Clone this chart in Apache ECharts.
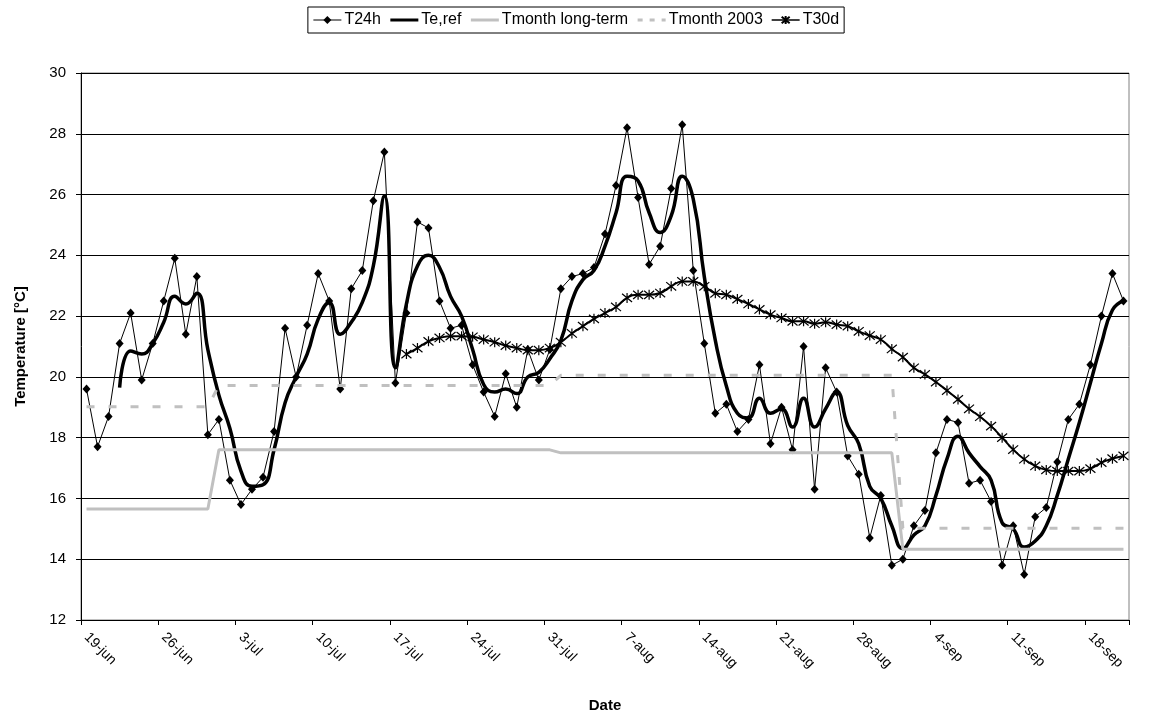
<!DOCTYPE html>
<html>
<head>
<meta charset="utf-8">
<script src="https://cdn.jsdelivr.net/npm/echarts@6/dist/echarts.min.js"></script>
<style>
html,body{margin:0;padding:0;background:#fff;}
#chart{width:1152px;height:718px;}
</style>
</head>
<body>
<div id="chart"></div>
<script>
// ---- categories: daily dates from 19-jun to 21-sep (2003) ----
var monthNames = ['jun', 'jul', 'aug', 'sep'];
var monthLengths = [30, 31, 31, 30];
var startDay = 19;
var dayCount = 95;

// ---- T24h daily mean temperature ----
var t24h = [19.6, 17.7, 18.7, 21.1, 22.1, 19.9, 21.1, 22.5, 23.9, 21.4,
            23.3, 18.1, 18.6, 16.6, 15.8, 16.3, 16.7, 18.2, 21.6, 20.0,
            21.7, 23.4, 22.5, 19.6, 22.9, 23.5, 25.8, 27.4, 19.8, 22.1,
            25.1, 24.9, 22.5, 21.6, 21.7, 20.4, 19.5, 18.7, 20.1, 19.0,
            20.9, 19.9, 20.9, 22.9, 23.3, 23.4, 23.6, 24.7, 26.3, 28.2,
            25.9, 23.7, 24.3, 26.2, 28.3, 23.5, 21.1, 18.8, 19.1, 18.2,
            18.6, 20.4, 17.8, 19.0, 17.6, 21.0, 16.3, 20.3, 19.5, 17.4,
            16.8, 14.7, 16.1, 13.8, 14.0, 15.1, 15.6, 17.5, 18.6, 18.5,
            16.5, 16.6, 15.9, 13.8, 15.1, 13.5, 15.4, 15.7, 17.2, 18.6,
            19.1, 20.4, 22.0, 23.4, 22.5];

// ---- Te,ref reference temperature (starts on day 4) ----
var teRef = [null, null, null, 19.65, 20.85, 20.75, 21.1, 21.8, 22.65, 22.4,
             22.75, 20.9, 19.4, 18.3, 16.9, 16.4, 16.45, 17.6, 19.15, 20.0,
             20.75, 21.9, 22.45, 21.4, 21.8, 22.45, 23.65, 25.95, 20.3, 22.4,
             23.65, 24.0, 23.6, 22.65, 22.0, 20.9, 19.75, 19.5, 19.6, 19.45,
             20.0, 20.15, 20.6, 21.2, 22.5, 23.2, 23.5, 24.3, 25.4, 26.6,
             26.45, 25.4, 24.75, 25.3, 26.6, 25.85, 23.3, 21.2, 19.7, 18.8,
             18.65, 19.3, 18.8, 18.95, 18.35, 19.3, 18.35, 18.95, 19.5, 18.4,
             17.8, 16.4, 16.0, 15.1, 14.35, 14.8, 15.1, 16.1, 17.3, 18.05,
             17.5, 17.05, 16.6, 15.2, 15.0, 14.4, 14.6, 15.1, 16.1, 17.3,
             18.5, 19.8, 21.1, 22.2, 22.5];

// ---- monthly means (jun, jul, aug, sep) ----
var tMonthLongTerm = [15.65, 17.6, 17.5, 14.33];
var tMonth2003 = [19.02, 19.72, 20.05, 15.02];

// ---- T30d running 30-day mean (starts on day 30) ----
var t30dStart = 29;
var t30d = [20.75, 20.95, 21.17, 21.28, 21.34, 21.34, 21.32, 21.23, 21.14, 21.03,
            20.95, 20.88, 20.88, 20.95, 21.14, 21.43, 21.67, 21.91, 22.1, 22.3,
            22.6, 22.7, 22.7, 22.76, 22.98, 23.14, 23.14, 22.98, 22.75, 22.7,
            22.56, 22.4, 22.22, 22.05, 21.94, 21.83, 21.83, 21.75, 21.8, 21.72,
            21.67, 21.5, 21.36, 21.23, 20.92, 20.65, 20.3, 20.08, 19.83, 19.55,
            19.26, 18.95, 18.69, 18.38, 18.0, 17.61, 17.29, 17.07, 16.94, 16.9,
            16.9, 16.9, 16.98, 17.18, 17.31, 17.4];

// ---- build category labels and month index per day ----
var categories = [];
var monthIdx = [];
(function () {
  var m = 0, d = startDay;
  for (var i = 0; i < dayCount; i++) {
    categories.push(d + '-' + monthNames[m]);
    monthIdx.push(m);
    d++;
    if (d > monthLengths[m]) { d = 1; m++; }
  }
})();
var longTermDaily = monthIdx.map(function (m) { return tMonthLongTerm[m]; });
var m2003Daily = monthIdx.map(function (m) { return tMonth2003[m]; });
var t30dDaily = categories.map(function (c, i) {
  return i < t30dStart ? null : t30d[i - t30dStart];
});

var FONT = 'Arial, "Liberation Sans", sans-serif';
var starPath = 'path://M0,0L10,10M10,0L0,10M5,-1L5,11';

var chart = echarts.init(document.getElementById('chart'), null, { renderer: 'canvas' });
chart.setOption({
  animation: false,
  backgroundColor: '#ffffff',
  textStyle: { fontFamily: FONT, color: '#000' },
  legend: {
    top: 7,
    left: 'center',
    borderColor: '#000',
    borderWidth: 1,
    padding: [5, 5, 5, 5],
    itemGap: 8,
    itemWidth: 28,
    itemHeight: 10,
    textStyle: { fontFamily: FONT, fontSize: 16, color: '#000', padding: [0, 0, 0, -2] },
    data: [
      { name: 'T24h', lineStyle: { width: 1 } },
      { name: 'Te,ref', itemStyle: { opacity: 0 }, lineStyle: { width: 3 } },
      { name: 'Tmonth long-term', itemStyle: { opacity: 0 }, lineStyle: { width: 3 } },
      { name: 'Tmonth 2003', itemStyle: { opacity: 0 }, lineStyle: { width: 3, type: [5, 7] } },
      { name: 'T30d', lineStyle: { width: 1.5 } }
    ]
  },
  grid: {
    left: 81, right: 23, top: 73, bottom: 97,
    show: true, borderColor: '#808080', borderWidth: 1, backgroundColor: '#fff'
  },
  xAxis: {
    type: 'category',
    data: categories,
    boundaryGap: true,
    name: 'Date',
    nameLocation: 'middle',
    nameGap: 78,
    nameTextStyle: { fontFamily: FONT, fontSize: 15, fontWeight: 'bold', color: '#000' },
    axisLine: { lineStyle: { color: '#000', width: 1 } },
    axisTick: { show: true, interval: 6, length: 5, lineStyle: { color: '#000' } },
    axisLabel: { interval: 6, rotate: -45, margin: 15, fontFamily: FONT, fontSize: 14, color: '#000' },
    splitLine: { show: false }
  },
  yAxis: {
    type: 'value',
    min: 12, max: 30, interval: 2,
    name: 'Temperature [°C]',
    nameLocation: 'middle',
    nameGap: 53,
    nameTextStyle: { fontFamily: FONT, fontSize: 15, fontWeight: 'bold', color: '#000' },
    axisLine: { show: true, lineStyle: { color: '#000', width: 1 } },
    axisTick: { show: true, length: 5, lineStyle: { color: '#000' } },
    axisLabel: { margin: 15, fontFamily: FONT, fontSize: 15, color: '#000' },
    splitLine: { show: true, lineStyle: { color: '#000', width: 1 } }
  },
  series: [
    {
      name: 'T24h', type: 'line', data: t24h,
      symbol: 'diamond', symbolSize: [8, 9], showAllSymbol: true,
      lineStyle: { color: '#000', width: 1 },
      itemStyle: { color: '#000' },
      z: 2
    },
    {
      name: 'Te,ref', type: 'line', data: teRef, smooth: 0.5,
      symbol: 'none', connectNulls: false,
      lineStyle: { color: '#000', width: 3.5 },
      itemStyle: { color: '#000' },
      z: 3
    },
    {
      name: 'Tmonth long-term', type: 'line', data: longTermDaily,
      symbol: 'none',
      lineStyle: { color: '#c0c0c0', width: 3 },
      itemStyle: { color: '#c0c0c0' },
      z: 4
    },
    {
      name: 'Tmonth 2003', type: 'line', data: m2003Daily,
      symbol: 'none',
      lineStyle: { color: '#c0c0c0', width: 3, type: [8, 14] },
      itemStyle: { color: '#c0c0c0' },
      z: 5
    },
    {
      name: 'T30d', type: 'line', data: t30dDaily, smooth: 0.5,
      symbol: starPath, symbolSize: 10, showAllSymbol: true,
      lineStyle: { color: '#000', width: 2 },
      itemStyle: { color: '#000', borderColor: '#000', borderWidth: 1.2 },
      z: 6
    }
  ]
});
</script>
</body>
</html>
